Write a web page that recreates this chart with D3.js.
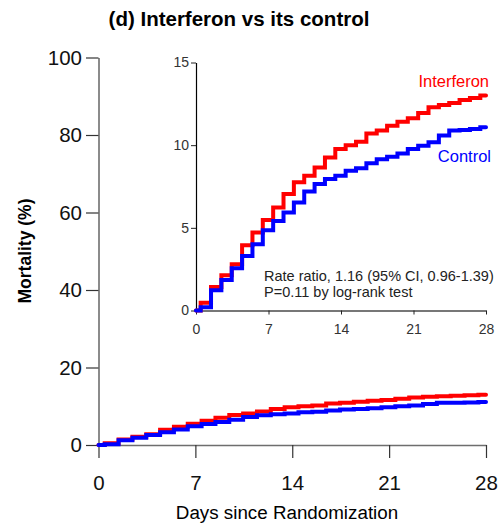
<!DOCTYPE html>
<html>
<head>
<meta charset="utf-8">
<script src="https://cdn.jsdelivr.net/npm/d3@7"></script>
<style>
  body { margin: 0; background: #fff; }
  svg { display: block; font-family: "Liberation Sans", Arial, sans-serif; }
</style>
</head>
<body>
<svg id="chart" width="500" height="523"></svg>
<script>
// 数据：每一步的时间（天）和累计死亡率（%）
const stepDays = [0.45, 1.45, 2.45, 3.45, 4.45, 5.45, 6.45, 7.45, 8.45, 9.45,
                  10.45, 11.45, 12.45, 13.45, 14.45, 15.45, 16.45, 17.45, 18.45, 19.45,
                  20.45, 21.45, 22.45, 23.45, 24.45, 25.45, 26.45, 27.45];
const interferon = [0.47, 1.42, 2.13, 2.8, 3.95, 4.72, 5.48, 6.23, 7.04, 7.75,
                    8.15, 8.65, 9.26, 9.77, 10.0, 10.2, 10.7, 10.88, 11.18, 11.42,
                    11.63, 11.95, 12.29, 12.43, 12.55, 12.73, 12.86, 13.0];
const control = [0.2, 1.22, 1.85, 2.56, 3.3, 4.0, 4.86, 5.42, 5.93, 6.53,
                 7.2, 7.65, 7.95, 8.15, 8.45, 8.6, 8.9, 9.15, 9.3, 9.5,
                 9.77, 9.97, 10.17, 10.58, 10.88, 10.92, 10.98, 11.08];
const xTicks = [0, 7, 14, 21, 28];
const mainYTicks = [0, 20, 40, 60, 80, 100];
const insetYTicks = [0, 5, 10, 15];
const endDay = 28;

const series = [
    { name: "Interferon", values: interferon, color: "#ff0000" },
    { name: "Control", values: control, color: "#0000ff" }
];

const svg = d3.select("#chart");

// 把步进数据转成点（起点0,0，终点第28天）
function toPoints(values) {
    const pts = [[0, 0]];
    stepDays.forEach((d, i) => pts.push([d, values[i]]));
    pts.push([endDay, values[values.length - 1]]);
    return pts;
}

// 标题
svg.append("text")
    .attr("x", 239).attr("y", 26)
    .attr("text-anchor", "middle")
    .attr("font-size", 20.5).attr("font-weight", "bold")
    .text("(d) Interferon vs its control");

// ---------- 主图 ----------
const x = d3.scaleLinear().domain([0, 28]).range([98.5, 486]);
const y = d3.scaleLinear().domain([0, 100]).range([445, 57.5]);

const gx = svg.append("g")
    .attr("transform", `translate(0,${y(0)})`)
    .call(d3.axisBottom(x).tickValues(xTicks).tickSize(13).tickSizeOuter(0).tickPadding(17));
const gy = svg.append("g")
    .attr("transform", `translate(${x(0)},0)`)
    .call(d3.axisLeft(y).tickValues(mainYTicks).tickSize(12.5).tickSizeOuter(0).tickPadding(4));

[gx, gy].forEach(g => {
    g.select(".domain").attr("stroke", "#6e6e6e").attr("stroke-width", 1.6);
    g.selectAll(".tick line").attr("stroke", "#333").attr("stroke-width", 1.2);
    g.selectAll(".tick text").attr("fill", "#111").attr("font-size", 20.5)
        .attr("font-family", "Liberation Sans, Arial, sans-serif");
});

const mainLine = d3.line()
    .curve(d3.curveStepAfter)
    .x(d => x(d[0]))
    .y(d => y(d[1]));

series.forEach(s => {
    svg.append("path")
        .attr("d", mainLine(toPoints(s.values)))
        .attr("fill", "none")
        .attr("stroke", s.color)
        .attr("stroke-width", 4)
        .attr("stroke-linecap", "round");
});

svg.append("text")
    .attr("x", 287).attr("y", 519)
    .attr("text-anchor", "middle")
    .attr("font-size", 18.8)
    .text("Days since Randomization");

svg.append("text")
    .attr("transform", "translate(31,251) rotate(-90)")
    .attr("text-anchor", "middle")
    .attr("font-size", 17.5).attr("font-weight", "bold")
    .text("Mortality (%)");

// ---------- 插图（放大） ----------
const xi = d3.scaleLinear().domain([0, 28]).range([196, 486]);
const yi = d3.scaleLinear().domain([0, 15]).range([310.5, 62.5]);

const gxi = svg.append("g")
    .attr("transform", `translate(0,${yi(0)})`)
    .call(d3.axisBottom(xi).tickValues(xTicks).tickSize(4).tickSizeOuter(0).tickPadding(10));
const gyi = svg.append("g")
    .attr("transform", `translate(${xi(0)},0)`)
    .call(d3.axisLeft(yi).tickValues(insetYTicks).tickSize(5).tickSizeOuter(0).tickPadding(2));

gxi.select(".domain").attr("stroke", "#777").attr("stroke-width", 2);
gyi.select(".domain").attr("stroke", "#000").attr("stroke-width", 1.2);
[gxi, gyi].forEach(g => {
    g.selectAll(".tick line").attr("stroke", "#222");
    g.selectAll(".tick text").attr("fill", "#333").attr("font-size", 14)
        .attr("font-family", "Liberation Sans, Arial, sans-serif");
});

const insetLine = d3.line()
    .curve(d3.curveStepAfter)
    .x(d => xi(d[0]))
    .y(d => yi(d[1]));

series.forEach(s => {
    svg.append("path")
        .attr("d", insetLine(toPoints(s.values)))
        .attr("fill", "none")
        .attr("stroke", s.color)
        .attr("stroke-width", 4)
        .attr("stroke-linecap", "round");
});

// 图例标签
svg.append("text")
    .attr("x", 489).attr("y", 87)
    .attr("text-anchor", "end")
    .attr("font-size", 16.5).attr("fill", "#ff0000")
    .text("Interferon");
svg.append("text")
    .attr("x", 491).attr("y", 162)
    .attr("text-anchor", "end")
    .attr("font-size", 16.5).attr("fill", "#0000ff")
    .text("Control");

// 统计注释
const note = svg.append("text")
    .attr("font-size", 14.5).attr("fill", "#222");
note.append("tspan").attr("x", 264).attr("y", 280.5)
    .text("Rate ratio, 1.16 (95% CI, 0.96-1.39)");
note.append("tspan").attr("x", 264).attr("y", 296.5)
    .text("P=0.11 by log-rank test");
</script>
</body>
</html>
